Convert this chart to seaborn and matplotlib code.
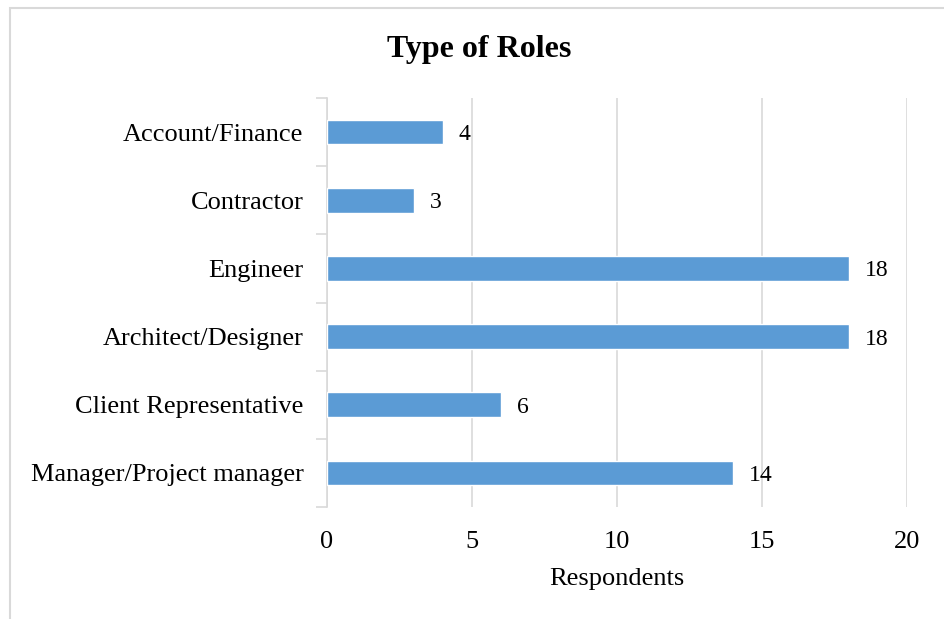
import pandas as pd
import matplotlib.pyplot as plt
import seaborn as sns
from matplotlib.patches import Rectangle

# Data
roles = ['Account/Finance', 'Contractor', 'Engineer', 'Architect/Designer',
         'Client Representative', 'Manager/Project manager']
respondents = [4, 3, 18, 18, 6, 14]

df = pd.DataFrame({'Role': roles, 'Respondents': respondents})

sns.set_style('white')
plt.rcParams['font.family'] = ['Liberation Serif', 'DejaVu Serif']
plt.rcParams['text.color'] = 'black'
plt.rcParams['axes.labelcolor'] = 'black'
plt.rcParams['xtick.color'] = 'black'
plt.rcParams['ytick.color'] = 'black'

fig = plt.figure(figsize=(9.44, 6.19), dpi=100)
ax = fig.add_axes([0.3464, 0.1809, 0.6144, 0.6608])

# Light outer frame of the chart area
fig.patches.append(Rectangle((10 / 944, -0.1), 1.2, 1 - 8 / 619 + 0.1,
                             transform=fig.transFigure, fill=False,
                             edgecolor='#d9d9d9', linewidth=1.5))

sns.barplot(data=df, x='Respondents', y='Role', color='#5B9BD5',
            width=0.36, saturation=1, ax=ax, zorder=3)

# Value labels
for i, v in enumerate(respondents):
    ax.text(v + 0.55, i, str(v), va='center_baseline', ha='left', fontsize=17)

ax.set_xlim(0, 20)
ax.set_ylim(5.5, -0.5)
ax.set_xticks([0, 5, 10, 15, 20])
ax.xaxis.grid(True, color='#d9d9d9', linewidth=1.2, zorder=0)
ax.yaxis.grid(False)

for s in ['top', 'right', 'bottom']:
    ax.spines[s].set_visible(False)
ax.spines['left'].set_color('#d9d9d9')
ax.spines['left'].set_linewidth(1.2)

# Tick marks sit between categories
ax.set_yticks([i + 0.5 for i in range(-1, 6)], minor=True)
ax.tick_params(axis='y', which='minor', length=8, color='#d9d9d9', width=1.2, left=True)
ax.tick_params(axis='y', which='major', length=0, pad=17, labelsize=19)
ax.tick_params(axis='x', length=0, pad=17, labelsize=19)

ax.set_ylabel('')
ax.set_xlabel('Respondents', fontsize=19, labelpad=11)

fig.text(0.508, 0.92, 'Type of Roles', ha='center', va='center',
         fontsize=23, fontweight='bold')

plt.savefig('out.png', dpi=100)
